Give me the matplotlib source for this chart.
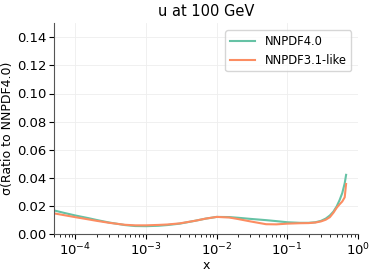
import matplotlib
matplotlib.use("Agg")
import matplotlib.pyplot as plt
import numpy as np

x_new = [5e-5, 7e-5, 1e-4, 1.5e-4, 2e-4, 3e-4, 5e-4, 7e-4, 1e-3, 1.5e-3, 2e-3, 3e-3, 5e-3,
         7e-3, 1e-2, 1.5e-2, 2e-2, 3e-2, 5e-2, 7e-2, 0.1, 0.15, 0.2, 0.25, 0.3, 0.35,
         0.4, 0.45, 0.5, 0.55, 0.6, 0.65, 0.68]
nnpdf40 = [0.0166, 0.0148, 0.0130, 0.0112, 0.0098, 0.0080, 0.0062, 0.0055, 0.0054, 0.0057,
           0.0062, 0.0072, 0.0093, 0.0108, 0.0120, 0.0119, 0.0114, 0.0106, 0.0097, 0.0090,
           0.0082, 0.0078, 0.0078, 0.0082, 0.0092, 0.0108, 0.0130, 0.0158, 0.0195, 0.0240,
           0.0290, 0.0360, 0.0420]

x_old = [5e-5, 7e-5, 1e-4, 1.5e-4, 2e-4, 3e-4, 5e-4, 7e-4, 1e-3, 1.5e-3, 2e-3, 3e-3, 5e-3,
         7e-3, 1e-2, 1.5e-2, 2e-2, 3e-2, 5e-2, 7e-2, 0.1, 0.15, 0.2, 0.25, 0.3, 0.35,
         0.4, 0.45, 0.5, 0.55, 0.6, 0.65, 0.68]
nnpdf31 = [0.0145, 0.0132, 0.0118, 0.0103, 0.0092, 0.0078, 0.0064, 0.0060, 0.0060, 0.0063,
           0.0066, 0.0074, 0.0093, 0.0108, 0.0120, 0.0116, 0.0105, 0.0088, 0.0068, 0.0067,
           0.0072, 0.0075, 0.0076, 0.0080, 0.0088, 0.0100, 0.0118, 0.0150, 0.0185, 0.0210,
           0.0230, 0.0260, 0.0355]

colors = ["#66c2a5", "#fc8d62"]

fig, ax = plt.subplots(figsize=(3.74, 2.75), dpi=100)
ax.plot(x_new, nnpdf40, color=colors[0], lw=1.5, label="NNPDF4.0")
ax.plot(x_old, nnpdf31, color=colors[1], lw=1.5, label="NNPDF3.1-like")

ax.set_xscale("log")
ax.set_xlim(5e-5, 1.0)
ax.set_ylim(0, 0.15)
ax.set_yticks(np.arange(0, 0.15, 0.02))
ax.grid(True, color="#eeeeee", lw=0.6)
ax.spines["top"].set_visible(False)
ax.spines["right"].set_visible(False)
ax.spines["left"].set_color("#555555")
ax.spines["bottom"].set_color("#555555")
ax.tick_params(labelsize=9.5, pad=2)
ax.set_title("u at 100 GeV", fontsize=10.5, pad=5)
ax.set_xlabel("x", fontsize=9, labelpad=1)
ax.set_ylabel("σ(Ratio to NNPDF4.0)", fontsize=9, labelpad=2)
ax.legend(loc="upper right", fontsize=8.3, handlelength=2.2, borderaxespad=0.6)

fig.subplots_adjust(left=0.145, right=0.957, top=0.915, bottom=0.15)
fig.savefig("out.png")
plt.close(fig)
